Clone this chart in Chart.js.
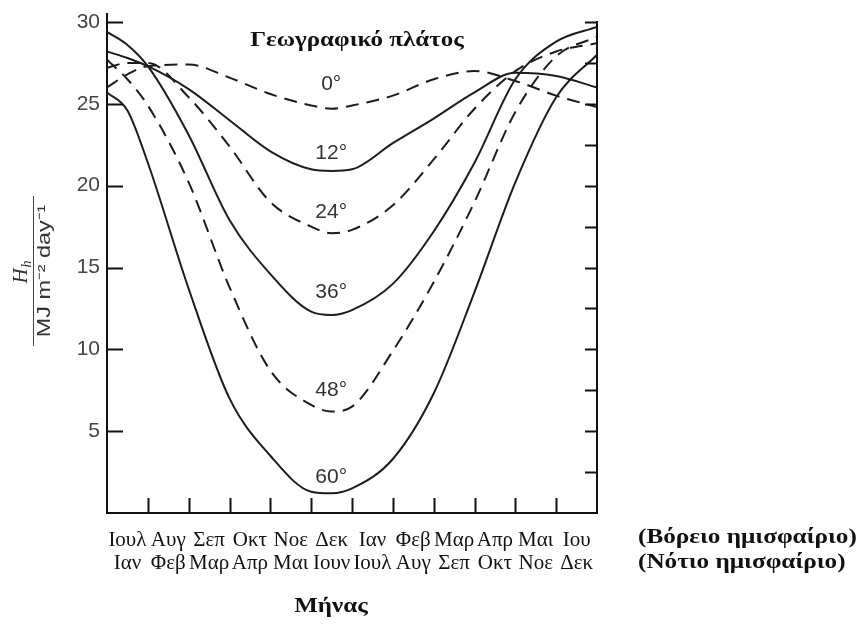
<!DOCTYPE html>
<html>
<head>
<meta charset="utf-8">
<script src="https://cdn.jsdelivr.net/npm/chart.js@4.4.1/dist/chart.umd.min.js"></script>
<style>
  html, body { margin: 0; padding: 0; background: #fff; }
</style>
</head>
<body>
<canvas id="chart" width="857" height="626"></canvas>
<script>
// month positions (0 = left edge, 12 = right edge)
const xs = [0, 0.5, 1, 2, 3, 4, 5, 5.5, 6, 7, 8, 9, 10, 11, 12];

// Hh values (MJ m-2 day-1)
const lat0  = [26.0, 26.8, 27.3, 27.4, 26.6, 25.6, 24.9, 24.7, 24.9, 25.5, 26.5, 27.0, 26.4, 25.5, 24.8];
const lat12 = [28.2, 27.8, 27.3, 25.9, 24.0, 22.1, 21.0, 20.9, 21.0, 22.6, 24.1, 25.7, 26.9, 26.7, 26.0];
const lat24 = [27.2, 27.5, 27.5, 25.4, 22.4, 19.0, 17.5, 17.1, 17.3, 18.8, 21.6, 24.7, 27.0, 28.2, 28.7];
const lat36 = [29.4, 28.6, 27.3, 23.1, 17.9, 14.6, 12.3, 12.1, 12.4, 14.0, 17.2, 21.4, 26.5, 28.8, 29.7];
const lat48 = [27.7, 26.5, 24.9, 20.2, 13.8, 8.7, 6.6, 6.2, 6.5, 9.9, 14.1, 19.0, 24.5, 27.9, 29.1];
const lat60 = [25.7, 24.6, 21.4, 13.7, 7.0, 3.5, 1.3, 1.2, 1.5, 3.3, 7.3, 13.5, 20.2, 25.4, 28.0];

const latNames = ['0°', '12°', '24°', '36°', '48°', '60°'];
const latDashed = [true, false, true, false, true, false];
const labelX = 5.49;
const labelY = [26.2, 22.0, 18.4, 13.5, 7.5, 2.2];

const monthsNorth = ['Ιουλ', 'Αυγ', 'Σεπ', 'Οκτ', 'Νοε', 'Δεκ', 'Ιαν', 'Φεβ', 'Μαρ', 'Απρ', 'Μαι', 'Ιου'];
const monthsSouth = ['Ιαν', 'Φεβ', 'Μαρ', 'Απρ', 'Μαι', 'Ιουν', 'Ιουλ', 'Αυγ', 'Σεπ', 'Οκτ', 'Νοε', 'Δεκ'];
const monthTicks = [1, 2, 3, 4, 5, 6, 7, 8, 9, 10, 11];
const leftTicks = [5, 10, 15, 20, 25, 30];
const rightTicks = [2.5, 5, 7.5, 10, 12.5, 15, 17.5, 20, 22.5, 25, 27.5, 30];

const serif = "'Liberation Serif', 'DejaVu Serif', serif";
const sans = "'Liberation Sans', Arial, sans-serif";

const series = [lat0, lat12, lat24, lat36, lat48, lat60];
const datasets = series.map((vals, i) => ({
	label: latNames[i],
	data: xs.map((x, j) => ({ x: x, y: vals[j] })),
	borderColor: '#1c1c1c',
	borderWidth: 2,
	borderDash: latDashed[i] ? [13, 8] : [],
	pointRadius: 0,
	fill: false,
	cubicInterpolationMode: 'monotone'
}));

// the scanned labels are a bit wider than the font, so stretch them sideways
function wideText(ctx, text, x, y, stretch) {
	ctx.save();
	ctx.translate(x, y);
	ctx.scale(stretch, 1);
	ctx.fillText(text, 0, 0);
	ctx.restore();
}

// inward tick marks, curve labels and the loose texts around the plot
const decorations = {
	id: 'decorations',
	afterDraw(chart) {
		const ctx = chart.ctx;
		const { left, right, top, bottom } = chart.chartArea;
		const x = chart.scales.x;
		const y = chart.scales.y;
		ctx.save();
		ctx.strokeStyle = '#111';
		ctx.lineWidth = 2;
		ctx.beginPath();
		ctx.moveTo(left, top);
		ctx.lineTo(left, top - 9);
		leftTicks.forEach(v => {
			const py = Math.round(y.getPixelForValue(v)) + 0.5;
			ctx.moveTo(left, py);
			ctx.lineTo(left + 16, py);
		});
		rightTicks.forEach(v => {
			const py = Math.round(y.getPixelForValue(v)) + 0.5;
			ctx.moveTo(right, py);
			ctx.lineTo(right - 12, py);
		});
		monthTicks.forEach(v => {
			const px = Math.round(x.getPixelForValue(v)) + 0.5;
			ctx.moveTo(px, bottom);
			ctx.lineTo(px, bottom - 15);
		});
		ctx.stroke();

		// latitude labels on the curves
		ctx.fillStyle = '#333';
		ctx.font = '21px ' + sans;
		ctx.textAlign = 'center';
		ctx.textBaseline = 'middle';
		latNames.forEach((name, i) => {
			ctx.fillText(name, x.getPixelForValue(labelX), y.getPixelForValue(labelY[i]));
		});

		ctx.fillStyle = '#111';
		ctx.font = 'bold 20px ' + serif;
		wideText(ctx, 'Γεωγραφικό πλάτος', 357, 41, 1.25);
		wideText(ctx, 'Μήνας', 331, 607, 1.25);
		ctx.textAlign = 'left';
		wideText(ctx, '(Βόρειο ημισφαίριο)', 638, 538, 1.26);
		wideText(ctx, '(Νότιο ημισφαίριο)', 638, 563, 1.26);

		// y axis title as a fraction, rotated
		ctx.translate(33, 271);
		ctx.rotate(-Math.PI / 2);
		ctx.fillStyle = '#333';
		ctx.textBaseline = 'alphabetic';
		ctx.textAlign = 'center';
		ctx.font = 'italic 21px ' + serif;
		ctx.fillText('H', -5, -6);
		ctx.font = 'italic 14px ' + serif;
		ctx.fillText('h', 7, -2);
		ctx.strokeStyle = '#444';
		ctx.lineWidth = 1;
		ctx.beginPath();
		ctx.moveTo(-75, 0.5);
		ctx.lineTo(75, 0.5);
		ctx.stroke();
		ctx.font = '18px ' + sans;
		ctx.textBaseline = 'top';
		wideText(ctx, 'MJ m\u207B\u00B2 day\u207B\u00B9', 0, 3, 1.3);
		ctx.restore();
	}
};

new Chart(document.getElementById('chart'), {
	type: 'line',
	data: { datasets: datasets },
	options: {
		responsive: false,
		animation: false,
		layout: { padding: { top: 22, left: 0, right: 0, bottom: 0 } },
		scales: {
			x: {
				type: 'linear',
				position: 'bottom',
				min: 0,
				max: 12,
				afterBuildTicks: scale => {
					scale.ticks = monthsNorth.map((m, i) => ({ value: i + 0.5 }));
				},
				afterFit: scale => { scale.height = 113; },
				grid: { drawOnChartArea: false, drawTicks: false },
				border: { display: true, color: '#111', width: 2 },
				ticks: {
					autoSkip: false,
					maxRotation: 0,
					padding: 16,
					color: '#111',
					font: { family: serif, size: 21, lineHeight: 1.1 },
					callback: (v, i) => [monthsNorth[i], monthsSouth[i]]
				}
			},
			y: {
				position: 'left',
				min: 0,
				max: 30,
				afterFit: scale => { scale.width = 107; },
				grid: { drawOnChartArea: false, drawTicks: false },
				border: { display: true, color: '#111', width: 2 },
				ticks: {
					stepSize: 5,
					padding: 7,
					color: '#444',
					font: { family: sans, size: 21 },
					callback: v => (v === 0 ? '' : v)
				}
			},
			y2: {
				position: 'right',
				min: 0,
				max: 30,
				afterFit: scale => { scale.width = 260; },
				grid: { drawOnChartArea: false, drawTicks: false },
				border: { display: true, color: '#111', width: 2 },
				ticks: { display: false }
			}
		},
		plugins: {
			legend: { display: false },
			tooltip: { enabled: false }
		}
	},
	plugins: [decorations]
});
</script>
</body>
</html>
